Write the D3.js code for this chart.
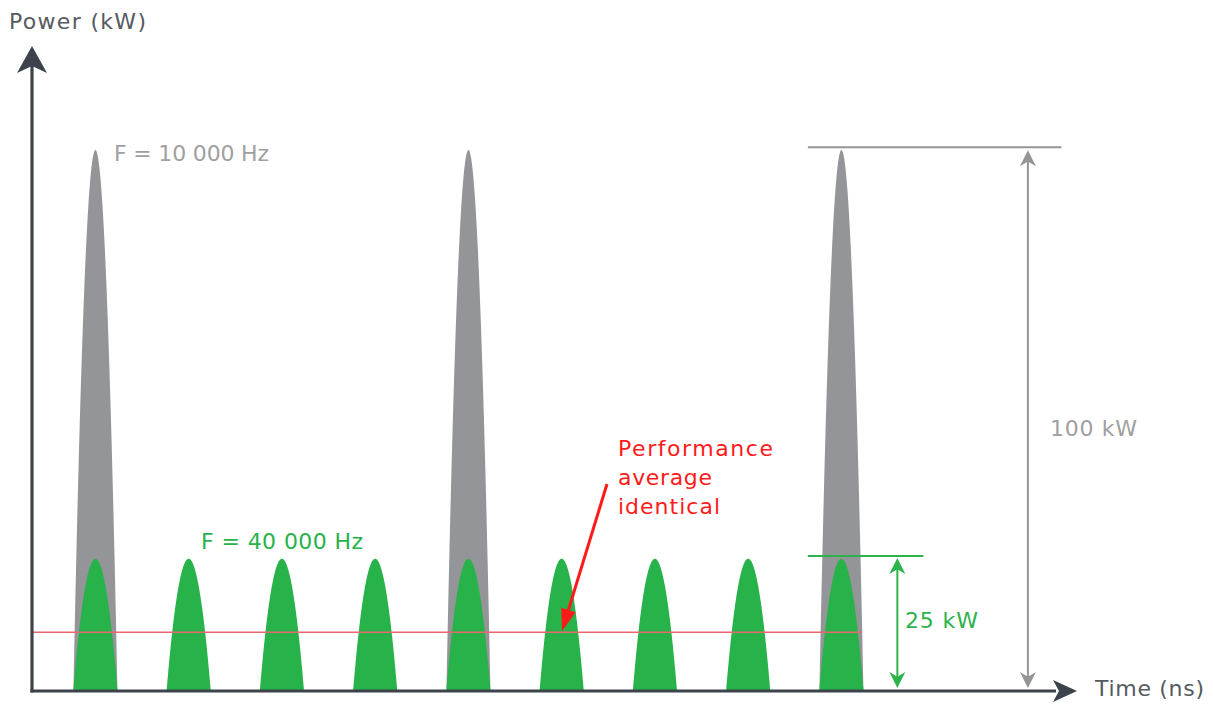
<!DOCTYPE html>
<html><head><meta charset="utf-8">
<script src="https://cdn.jsdelivr.net/npm/d3@7"></script>
<style>
html,body{margin:0;padding:0;background:#fff;}
svg{display:block;}
text{font-family:"DejaVu Sans","Noto Sans",sans-serif;}
</style></head>
<body>
<svg id="chart" width="1213" height="704"></svg>
<script>
// ---- data (time in µs, power in kW) ----
const greenCenters = [17, 42, 67, 92, 117, 142, 167, 192, 217]; // F = 40 000 Hz
const greenPeak = 24.3;
const grayCenters = [17, 117, 217]; // F = 10 000 Hz
const grayPeak = 100;
const pulseHalfWidth = 5.9;
const averagePower = 10.7;
const averageEnd = 222.4;
const dim100 = {value: 100.5, label: "100 kW", x: 267, from: 208, to: 276};
const dim25 = {value: 24.8, label: "25 kW", x: 232, from: 208, to: 239};
const labels = {
  yTitle: "Power (kW)", xTitle: "Time (ns)",
  f10: "F = 10 000 Hz", f40: "F = 40 000 Hz",
  avg: ["Performance", "average", "identical"]
};

const svg = d3.select("#chart");
const x = d3.scaleLinear().domain([0, 280]).range([32, 32 + 280 * 3.73]);
const y = d3.scaleLinear().domain([0, 100]).range([690, 150]);

const C = {axis:"#3c434a", gray:"#939598", green:"#27b24a", red:"#ff1a1a", redLine:"#e8696b", grayText:"#a0a0a0", title:"#555a5f"};

// pulse outline (parabolic)
function pulse(c, peak) {
  const pts = d3.range(-1, 1.0001, 0.02).map(u => [c + u * pulseHalfWidth, peak * (1 - u * u)]);
  return d3.area().x(d => x(d[0])).y0(y(0)).y1(d => y(d[1]))(pts);
}

svg.append("g").selectAll("path").data(grayCenters).join("path")
  .attr("d", c => pulse(c, grayPeak)).attr("fill", C.gray);
svg.append("g").selectAll("path").data(greenCenters).join("path")
  .attr("d", c => pulse(c, greenPeak)).attr("fill", C.green);

// average line
svg.append("line").attr("x1", x(0)).attr("x2", x(averageEnd))
  .attr("y1", y(averagePower)).attr("y2", y(averagePower))
  .attr("stroke", C.redLine).attr("stroke-width", 1.5);

// axes
const axisY = 691;
svg.append("line").attr("x1", x(0) - 1.6).attr("x2", 1056).attr("y1", axisY).attr("y2", axisY)
  .attr("stroke", C.axis).attr("stroke-width", 3.2);
svg.append("line").attr("x1", x(0)).attr("x2", x(0)).attr("y1", axisY + 1.6).attr("y2", 66)
  .attr("stroke", C.axis).attr("stroke-width", 3.2);
const ax = x(0);
svg.append("path").attr("d", `M${ax},46 L${ax+15},73 L${ax},66 L${ax-15},73 Z`).attr("fill", C.axis);
svg.append("path").attr("d", `M1077,${axisY} L1053,${axisY-11} L1059,${axisY} L1053,${axisY+11} Z`).attr("fill", C.axis);

// dimension arrows
function dimArrow(xp, y1, y2, color, hw, hl) {
  const g = svg.append("g");
  g.append("line").attr("x1", xp).attr("x2", xp).attr("y1", y1 + hl * 0.6).attr("y2", y2 - hl * 0.6)
    .attr("stroke", color).attr("stroke-width", 2);
  g.append("path").attr("d", `M${xp},${y1} L${xp+hw},${y1+hl} L${xp},${y1+hl*0.7} L${xp-hw},${y1+hl} Z`).attr("fill", color);
  g.append("path").attr("d", `M${xp},${y2} L${xp+hw},${y2-hl} L${xp},${y2-hl*0.7} L${xp-hw},${y2-hl} Z`).attr("fill", color);
}
// 100 kW
svg.append("line").attr("x1", x(dim100.from)).attr("x2", x(dim100.to))
  .attr("y1", y(dim100.value)).attr("y2", y(dim100.value)).attr("stroke", C.gray).attr("stroke-width", 2);
dimArrow(x(dim100.x), y(dim100.value) + 3, y(0) - 2, C.gray, 8, 16);
// 25 kW
svg.append("line").attr("x1", x(dim25.from)).attr("x2", x(dim25.to))
  .attr("y1", y(dim25.value)).attr("y2", y(dim25.value)).attr("stroke", "#2db34b").attr("stroke-width", 2);
dimArrow(x(dim25.x), y(dim25.value) + 2, y(0) - 2, "#2db34b", 8, 16);

// red pointer arrow
const ra = {x1: 607, y1: 484, x2: 562, y2: 631};
const ang = Math.atan2(ra.y2 - ra.y1, ra.x2 - ra.x1);
const hl = 22, hw = 7.5;
const bx = ra.x2 - hl * Math.cos(ang), by = ra.y2 - hl * Math.sin(ang);
svg.append("line").attr("x1", ra.x1).attr("y1", ra.y1).attr("x2", bx + 4*Math.cos(ang)).attr("y2", by + 4*Math.sin(ang))
  .attr("stroke", C.red).attr("stroke-width", 3);
svg.append("path").attr("d",
  `M${ra.x2},${ra.y2} L${bx - hw*Math.sin(ang)},${by + hw*Math.cos(ang)} L${bx + hw*Math.sin(ang)},${by - hw*Math.cos(ang)} Z`)
  .attr("fill", C.red);

// texts
const fs = 22;
function txt(t, xp, yp, color, w) {
  const el = svg.append("text").attr("x", xp).attr("y", yp).attr("fill", color)
    .attr("font-size", fs).text(t);
  if (w) el.attr("textLength", w).attr("lengthAdjust", "spacing");
  return el;
}
txt(labels.yTitle, 9, 29, C.title, 137);
txt(labels.xTitle, 1095, 696, C.title, 109);
txt(labels.f10, 114, 161, C.grayText, 155);
txt(labels.f40, 201, 549, C.green, 162);
const avgW = [155, 94, 102];
labels.avg.forEach((l, i) => txt(l, 618, 456 + i * 29, C.red, avgW[i]));
txt(dim100.label, 1050, 436, C.grayText, 87);
txt(dim25.label, 905, 628, "#2db34b", 73);
</script>
</body></html>
